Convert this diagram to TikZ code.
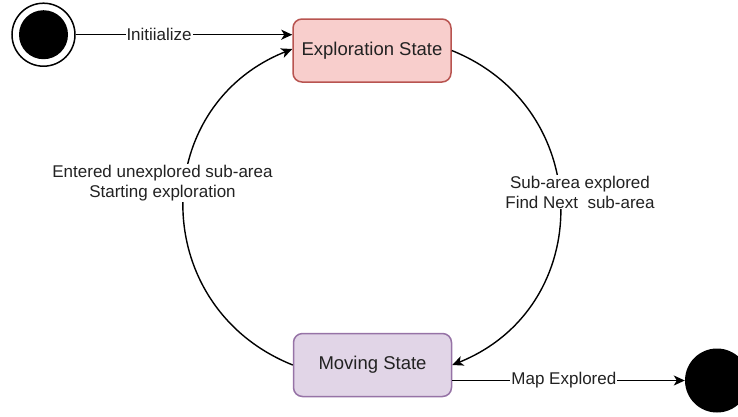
\documentclass[tikz,border=0pt]{standalone}
\usepackage{fontspec}
\setmainfont{Liberation Sans}
\usetikzlibrary{arrows.meta}
\definecolor{explfill}{HTML}{F8CECC}
\definecolor{expldraw}{HTML}{B85450}
\definecolor{movfill}{HTML}{E1D5E7}
\definecolor{movdraw}{HTML}{9673A6}
\definecolor{txt}{HTML}{222222}
\tikzset{
  statebox/.style={draw, line width=1.5pt, rounded corners=9pt, minimum width=158pt, minimum height=63pt, inner sep=0pt, font=\fontsize{18.5}{22}\selectfont, text=txt},
  edge/.style={line width=1.4pt, -{Stealth[length=11pt,width=10pt,inset=3pt]}},
  lbl/.style={fill=white, inner sep=1pt, align=center, font=\fontsize{17}{20}\selectfont, text=txt},
}
\begin{document}
\begin{tikzpicture}[x=1pt,y=-1pt]
\useasboundingbox (0,0) rectangle (738,416);
% start state
\node[circle, draw, line width=1.5pt, fill=white, minimum size=63pt, inner sep=0pt] (start) at (43.5,34.7) {};
\node[circle, fill=black, minimum size=49pt, inner sep=0pt] (startdot) at (start.center) {};
% states
\node[statebox, fill=explfill, draw=expldraw] (expl) at (372,50.5) {Exploration State};
\node[statebox, fill=movfill, draw=movdraw] (moving) at (372.5,365) {Moving State};
% final state
\node[circle, fill=black, minimum size=64pt, inner sep=0pt] (final) at (717,380.5) {};
% edges
\draw[edge] (start.east) -- (expl.west |- start.east)
  node[lbl, pos=0.385] (initlbl) {Initiialize};
\draw[edge] (expl.east) .. controls +(144,58) and +(144,-58) .. (moving.east);
\draw[edge] (moving.west) .. controls +(-145,-58) and +(-145,58) .. ([yshift=1.5pt]expl.west);
\draw[edge] (moving.east |- final) -- (final.west)
  node[lbl, pos=0.48] (maplbl) {Map Explored};
% arc labels
\node[lbl] (rightlbl) at (580,192) {Sub-area explored\\Find Next\ \ sub-area};
\node[lbl] (leftlbl) at (162.5,183) {Entered unexplored sub-area\\Starting exploration};
\end{tikzpicture}
\end{document}
